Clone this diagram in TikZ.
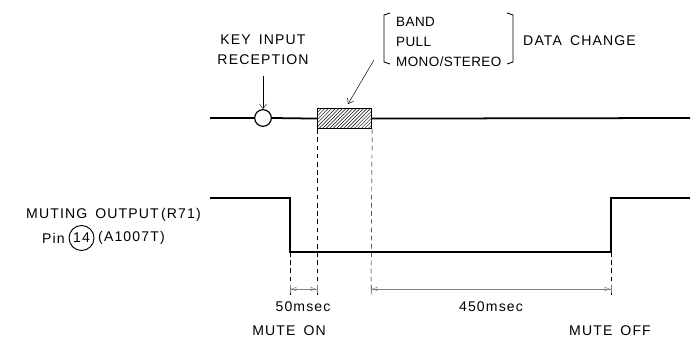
\documentclass[tikz,border=0pt]{standalone}
\usepackage{fontspec}
\setmainfont[LetterSpace=8,WordSpace=1.6]{Liberation Sans}
\usetikzlibrary{arrows.meta,positioning,patterns}

\tikzset{
  lbl/.style={font=\fontsize{12}{17}\selectfont, inner sep=0pt, align=left},
  sig/.style={line width=1.5pt},
  guide/.style={thin, dash pattern=on 4pt off 3pt},
  dimline/.style={thin, gray, {Bar[width=7pt]Latex[length=5pt,open]}-{Latex[length=5pt,open]Bar[width=7pt]}},
}

\begin{document}
\begin{tikzpicture}[x=0.3mm,y=-0.3mm]
	\useasboundingbox (0,0) rectangle (694,342);

	% key / data line
	\node[circle, draw, line width=1pt, minimum size=5mm, inner sep=0pt] (key) at (263,118) {};
	\node[draw, line width=1pt, pattern=north east lines, minimum width=54*0.3mm, minimum height=20*0.3mm, inner sep=0pt, anchor=north west] (data) at (317,108) {};
	\coordinate (topL) at (210,118);
	\coordinate (topR) at (690,118);
	\draw[sig] (topL) -- (key.west);
	\draw[sig] (key.east) -- (data.west);
	\draw[sig] (data.east) -- (topR);

	\node[lbl, align=center] (keytxt) at (263,50) {KEY INPUT\\RECEPTION};
	\coordinate (karr) at (263,76);
	\draw[-{Straight Barb[length=4pt,width=6pt]}, thin] (karr) -- (key.north);

	% data change bracket
	\node[lbl, font=\fontsize{11.5}{17}\selectfont\addfontfeature{LetterSpace=3}, anchor=west] (items) at (396,42) {BAND\\PULL\\MONO/STEREO};
	\draw[line width=0.8pt] (390,13) -- (384,15) -- (384,62) -- (390,64);
	\draw[line width=0.8pt] (507,13) -- (513,15) -- (513,62) -- (507,64);
	\node[lbl, anchor=west] (dchg) at (523,41) {DATA CHANGE};
	\coordinate (darr) at (374,60);
	\coordinate (darrend) at (348,104);
	\draw[-{Straight Barb[length=4pt,width=6pt]}, thin] (darr) -- (darrend);

	% muting output
	\coordinate (m0) at (210,198);
	\coordinate (m1) at (290,198);
	\coordinate (m2) at (290,252);
	\coordinate (m3) at (611,252);
	\coordinate (m4) at (611,198);
	\coordinate (m5) at (690,198);
	\draw[sig] (m0) -- (m1) -- (m2) -- (m3) -- (m4) -- (m5);

	\node[lbl, anchor=east] (mtxt) at (201,215) {MUTING OUTPUT\,(R71)};
	\node[lbl, anchor=west] (pin) at (42,238) {Pin};
	\node[lbl, circle, draw, line width=0.8pt, minimum size=7.5mm, inner sep=0pt, right=3pt of pin] (pinno) {14};
	\node[lbl, right=3pt of pinno] (ic) {(A1007T)};

	% timing guides
	\draw[guide] (m2) -- (290,295);
	\draw[guide] (data.south west) -- (317,295);
	\draw[guide] (data.south east) -- (371,295);
	\draw[guide] (m3) -- (611,295);

	\coordinate (d1) at (290,289);
	\coordinate (d2) at (317,289);
	\coordinate (d3) at (371,289);
	\coordinate (d4) at (611,289);
	\draw[dimline] (d1) -- (d2);
	\draw[dimline] (d3) -- (d4);

	\node[lbl] (t50) at (303,307) {50msec};
	\node[lbl] (t450) at (491,307) {450msec};
	\node[lbl] (mon) at (289,331) {MUTE ON};
	\node[lbl] (moff) at (610,331) {MUTE OFF};
\end{tikzpicture}
\end{document}
